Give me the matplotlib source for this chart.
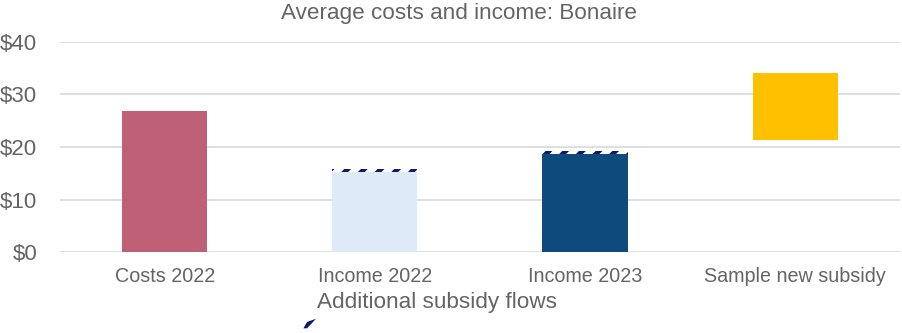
import matplotlib
matplotlib.use("Agg")
import matplotlib.pyplot as plt
from matplotlib.patches import Polygon

plt.rcParams['font.family'] = ['Liberation Sans', 'DejaVu Sans']
plt.rcParams['hatch.linewidth'] = 3.5

# values in dollars
categories = ["Costs 2022", "Income 2022", "Income 2023", "Sample new subsidy"]
base_bottom = [0, 0, 0, 21.3]
base_height = [26.9, 15.2, 18.6, 12.8]
extra_flows = [0, 0.7, 0.6, 0]
colors = ["#c06076", "#deeaf8", "#0f4a7c", "#ffc000"]
yticks = [0, 10, 20, 30, 40]
ytick_labels = ["$0", "$10", "$20", "$30", "$40"]

gray = "#646464"
navy = "#0c1a6a"

fig = plt.figure(figsize=(9.03, 3.33), dpi=100)
ax = fig.add_axes([0.066, 0.243, 0.931, 0.631])

x = range(len(categories))
ax.bar(x, base_height, bottom=base_bottom, width=0.405, color=colors, zorder=2)

# additional subsidy flows stacked on the income bars
tops = [b + h for b, h in zip(base_bottom, base_height)]
ax.bar(x, extra_flows, bottom=tops, width=0.405, color="white",
       edgecolor=navy, hatch="//", linewidth=0, zorder=2)

ax.set_xlim(-0.5, 3.5)
ax.set_ylim(0, 40)
ax.set_yticks(yticks)
ax.set_yticklabels(ytick_labels)
ax.set_xticks(list(x))
ax.set_xticklabels(categories)
ax.tick_params(axis="y", labelsize=16, colors=gray, length=0, pad=16)
ax.tick_params(axis="x", labelsize=14.2, colors=gray, length=0, pad=11)
ax.yaxis.grid(True, color="#d9d9d9", linewidth=1.2, zorder=0)
ax.set_axisbelow(True)
for s in ax.spines.values():
    s.set_visible(False)

fig.text(0.508, 0.958, "Average costs and income: Bonaire", fontsize=16.2,
         color=gray, ha="center", va="center")

fig.text(0.484, 0.093, "Additional subsidy flows", fontsize=16.2, color=gray,
         ha="center", va="center")
fig.patches.append(Polygon([[0.336, 0.014], [0.340, 0.033], [0.350, 0.043],
                            [0.340, 0.014]], closed=True, transform=fig.transFigure,
                           facecolor=navy, edgecolor="none"))

fig.savefig("out.png", dpi=100)
